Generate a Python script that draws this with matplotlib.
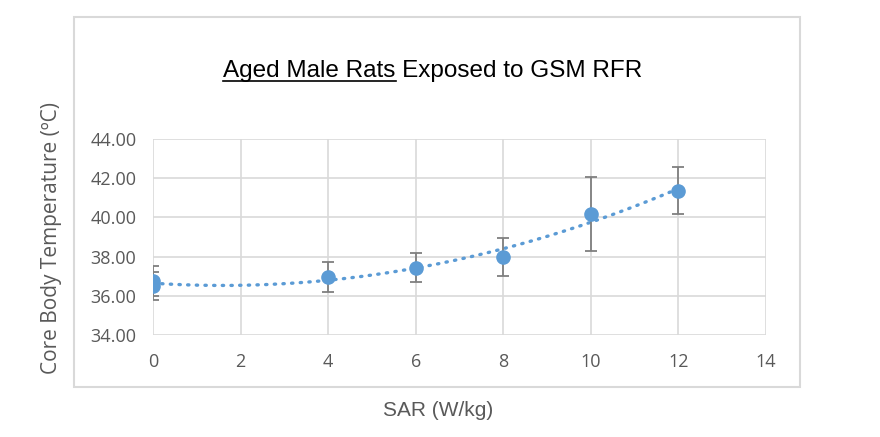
import numpy as np
import matplotlib
matplotlib.use("Agg")
import matplotlib.pyplot as plt
from matplotlib.patches import Rectangle
from matplotlib.lines import Line2D

# values
sar = [0, 0, 4, 6, 8, 10, 12]
temp = [36.75, 36.50, 36.95, 37.42, 37.98, 40.17, 41.35]
temp_err = [0.77, 0.72, 0.77, 0.74, 0.95, 1.90, 1.20]

x_ticks = [0, 2, 4, 6, 8, 10, 12, 14]
y_ticks = [34, 36, 38, 40, 42, 44]

blue = "#5b9bd5"
err_gray = "#7f7f7f"
grid_gray = "#d9d9d9"
text_gray = "#595959"

fig = plt.figure(figsize=(8.8, 4.37), dpi=100)
ax = fig.add_axes([153/880, 1-335/437, (766-153)/880, (335-139)/437])

# outer chart frame
fig.patches.append(Rectangle((74/880, 1-387/437), (800-74)/880, (387-17)/437,
                             transform=fig.transFigure, fill=False,
                             edgecolor=grid_gray, linewidth=1.5, zorder=0))

# 2nd order polynomial trendline (like Excel)
coef = np.polyfit(sar, temp, 2)
xs = np.linspace(0, 12, 200)
ax.plot(xs, np.polyval(coef, xs), color=blue, linewidth=2.4,
        linestyle=(0, (0.4, 2.2)), dash_capstyle="round", zorder=2)

ax.errorbar(sar, temp, yerr=temp_err, fmt="o", color=blue, markersize=9.5,
            ecolor=err_gray, elinewidth=1.3, capsize=4, capthick=1.3, zorder=3)

ax.set_xlim(0, 14)
ax.set_ylim(34, 44)
ax.set_xticks(x_ticks)
ax.set_yticks(y_ticks)
ax.set_yticklabels([f"{v:.2f}" for v in y_ticks])
ax.grid(True, color=grid_gray, linewidth=1.2)
ax.set_axisbelow(True)
for s in ax.spines.values():
    s.set_visible(False)
ax.tick_params(length=0, labelsize=13, labelcolor=text_gray)
ax.tick_params(axis="y", pad=12)
ax.tick_params(axis="x", pad=13)
for lab in ax.get_xticklabels() + ax.get_yticklabels():
    lab.set_family("Open Sans")

fig.text(52/880, 1-238/437, "Core Body Temperature (ºC)", rotation=90,
         ha="center", va="center", fontsize=15, color=text_gray, family="Open Sans")
fig.text(438/880, 1-410/437, "SAR (W/kg)", ha="center", va="center",
         fontsize=15, color=text_gray, family="Liberation Sans")

# title with first part underlined
full = "Aged Male Rats Exposed to GSM RFR"
part = "Aged Male Rats"
title = fig.text(433/880, 1-71/437, full, ha="center", va="center",
                 fontsize=17.5, color="black", family="Liberation Sans")
fig.canvas.draw()
r = fig.canvas.get_renderer()
bb = title.get_window_extent(r)
probe = fig.text(0, 0, part, fontsize=17.5, family="Liberation Sans")
pw = probe.get_window_extent(r).width
probe.remove()
x0 = bb.x0 / fig.bbox.width
x1 = (bb.x0 + pw) / fig.bbox.width
yline = (bb.y0 + 1) / fig.bbox.height
fig.add_artist(Line2D([x0, x1], [yline, yline], transform=fig.transFigure,
                      color="black", linewidth=1.2))

fig.savefig("out.png", dpi=100)
